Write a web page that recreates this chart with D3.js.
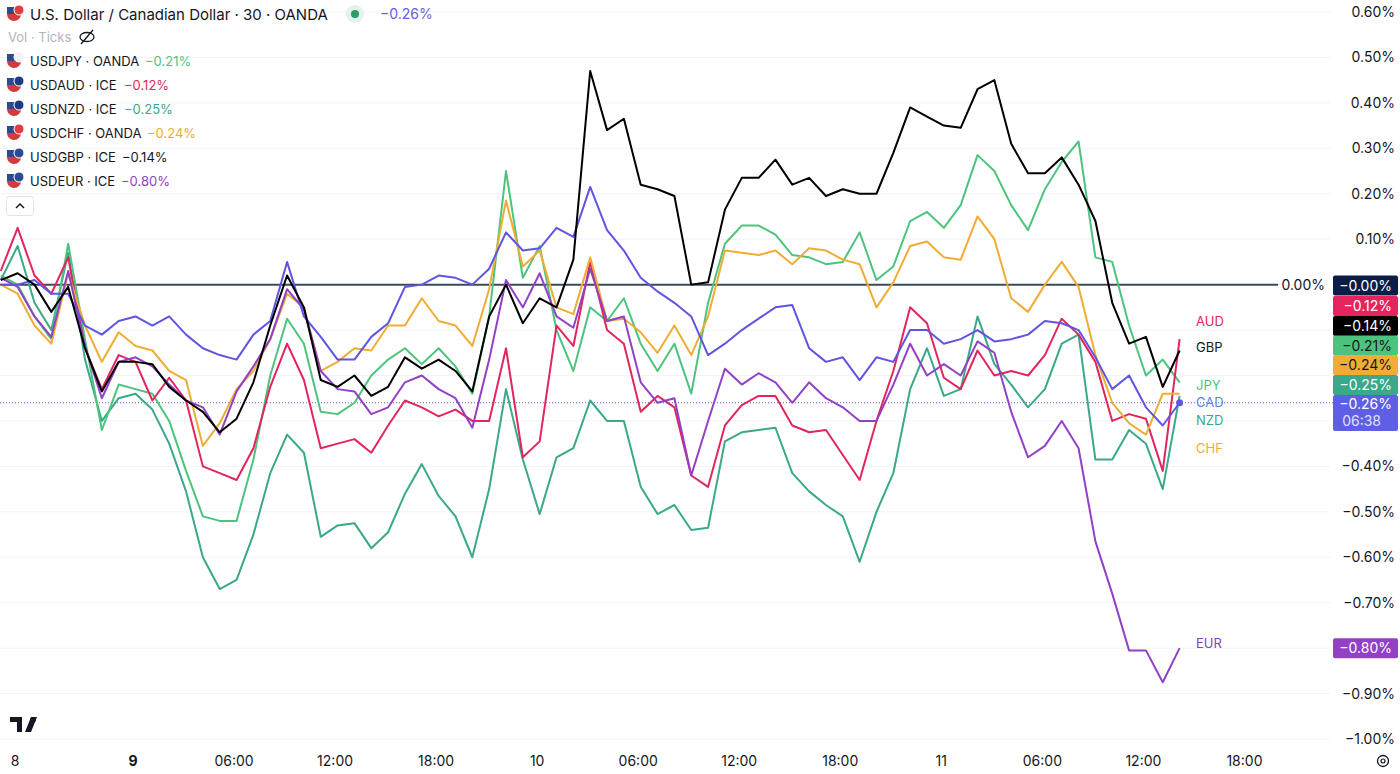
<!DOCTYPE html>
<html><head><meta charset="utf-8">
<script src="https://cdn.jsdelivr.net/npm/d3@7"></script>
<style>body{margin:0;background:#fff;font-family:Inter,"Noto Sans",sans-serif}</style>
</head><body><svg id="c" width="1400" height="774"></svg>
<script>
// hourly samples, % change, starting 8th ~16:10
const startHour = -7.85; // hours relative to 9th 00:00
const CAD = [0,0,0.01,-0.02,-0.02,-0.09,-0.11,-0.08,-0.07,-0.09,-0.07,-0.11,-0.14,-0.155,-0.165,-0.11,-0.08,0.05,-0.07,-0.115,-0.165,-0.165,-0.115,-0.085,-0.005,0,0.02,0.015,0,0.035,0.115,0.075,0.08,0.125,0.105,0.215,0.12,0.075,0.015,-0.015,-0.04,-0.07,-0.155,-0.13,-0.1,-0.075,-0.05,-0.045,-0.14,-0.17,-0.16,-0.21,-0.16,-0.17,-0.1,-0.1,-0.13,-0.12,-0.1,-0.125,-0.12,-0.11,-0.08,-0.085,-0.1,-0.16,-0.23,-0.2,-0.27,-0.31,-0.26];
const GBP = [0.01,0.025,0,-0.06,-0.005,-0.14,-0.235,-0.17,-0.17,-0.175,-0.225,-0.255,-0.28,-0.325,-0.295,-0.215,-0.09,0.02,-0.05,-0.21,-0.225,-0.2,-0.245,-0.225,-0.16,-0.185,-0.165,-0.19,-0.235,-0.07,0,-0.085,-0.03,-0.05,0.055,0.47,0.34,0.365,0.22,0.21,0.195,0,0.005,0.165,0.235,0.235,0.275,0.22,0.235,0.195,0.21,0.2,0.2,0.29,0.39,0.37,0.35,0.345,0.43,0.45,0.31,0.245,0.245,0.28,0.22,0.14,-0.04,-0.13,-0.115,-0.225,-0.145];
const AUD = [0.03,0.125,0.02,-0.02,0.06,-0.14,-0.23,-0.155,-0.17,-0.255,-0.205,-0.255,-0.4,-0.415,-0.43,-0.36,-0.225,-0.13,-0.21,-0.36,-0.35,-0.34,-0.37,-0.31,-0.255,-0.27,-0.29,-0.275,-0.3,-0.3,-0.14,-0.38,-0.345,-0.09,-0.135,0.05,-0.1,-0.13,-0.28,-0.245,-0.27,-0.42,-0.445,-0.31,-0.265,-0.245,-0.245,-0.31,-0.325,-0.32,-0.375,-0.43,-0.3,-0.19,-0.05,-0.085,-0.205,-0.23,-0.145,-0.2,-0.19,-0.2,-0.155,-0.075,-0.11,-0.17,-0.3,-0.285,-0.295,-0.41,-0.12];
const CHF = [0,-0.02,-0.09,-0.13,0.025,-0.09,-0.17,-0.105,-0.135,-0.145,-0.19,-0.21,-0.355,-0.305,-0.23,-0.19,-0.12,-0.02,-0.05,-0.19,-0.17,-0.14,-0.145,-0.09,-0.09,-0.03,-0.08,-0.09,-0.135,-0.01,0.185,0.04,0.075,-0.05,-0.065,0.06,-0.08,-0.075,-0.105,-0.15,-0.09,-0.155,-0.07,0.075,0.07,0.065,0.075,0.045,0.08,0.075,0.055,0.045,-0.05,0.005,0.085,0.095,0.06,0.055,0.15,0.1,-0.03,-0.06,0,0.05,-0.005,-0.155,-0.26,-0.305,-0.33,-0.24,-0.24];
const EUR = [0.015,-0.005,-0.07,-0.115,0.03,-0.135,-0.25,-0.17,-0.16,-0.18,-0.22,-0.255,-0.27,-0.33,-0.235,-0.18,-0.12,-0.01,-0.055,-0.19,-0.23,-0.235,-0.285,-0.27,-0.215,-0.2,-0.23,-0.25,-0.315,-0.165,0.01,-0.05,0.025,-0.07,-0.095,0.035,-0.08,-0.07,-0.215,-0.26,-0.25,-0.42,-0.3,-0.185,-0.22,-0.195,-0.215,-0.26,-0.215,-0.25,-0.27,-0.3,-0.3,-0.22,-0.13,-0.2,-0.175,-0.2,-0.125,-0.15,-0.28,-0.38,-0.355,-0.3,-0.36,-0.565,-0.68,-0.805,-0.805,-0.875,-0.8];
const JPY = [0.02,0,-0.07,-0.12,0.09,-0.12,-0.32,-0.22,-0.23,-0.24,-0.3,-0.41,-0.51,-0.52,-0.52,-0.385,-0.2,-0.075,-0.13,-0.28,-0.285,-0.26,-0.2,-0.165,-0.14,-0.175,-0.14,-0.18,-0.24,-0.07,0.25,0.015,0.085,-0.1,-0.19,-0.05,-0.08,-0.03,-0.13,-0.19,-0.13,-0.24,-0.04,0.09,0.13,0.13,0.11,0.065,0.06,0.045,0.05,0.115,0.01,0.04,0.14,0.16,0.125,0.175,0.285,0.25,0.175,0.12,0.21,0.27,0.315,0.06,0.05,-0.09,-0.2,-0.165,-0.215];
const NZD = [0.01,0.085,-0.04,-0.1,0.07,-0.165,-0.3,-0.25,-0.24,-0.275,-0.35,-0.455,-0.6,-0.67,-0.65,-0.55,-0.415,-0.33,-0.37,-0.555,-0.53,-0.525,-0.58,-0.545,-0.46,-0.395,-0.465,-0.51,-0.6,-0.45,-0.23,-0.385,-0.505,-0.38,-0.36,-0.255,-0.3,-0.3,-0.445,-0.505,-0.485,-0.54,-0.535,-0.345,-0.325,-0.32,-0.315,-0.415,-0.455,-0.485,-0.51,-0.61,-0.5,-0.415,-0.23,-0.14,-0.245,-0.23,-0.07,-0.175,-0.22,-0.27,-0.23,-0.13,-0.11,-0.385,-0.385,-0.32,-0.35,-0.45,-0.245];

const yTicks = [0.6,0.5,0.4,0.3,0.2,0.1,0,-0.1,-0.2,-0.3,-0.4,-0.5,-0.6,-0.7,-0.8,-0.9,-1.0];
const hiddenTicks = [0,-0.1,-0.2,-0.3,-0.8];
const xTickHours = [-7,0,6,12,18,24,30,36,42,48,54,60,66];
const xTickLabels = ["8","9","06:00","12:00","18:00","10","06:00","12:00","18:00","11","06:00","12:00","18:00"];

const series = [
 {name:"JPY", vals:JPY, color:"#4cc47e", last:-0.21, legend:"USDJPY · OANDA"},
 {name:"AUD", vals:AUD, color:"#e2255c", last:-0.12, legend:"USDAUD · ICE"},
 {name:"NZD", vals:NZD, color:"#3aa88a", last:-0.25, legend:"USDNZD · ICE"},
 {name:"CHF", vals:CHF, color:"#efad33", last:-0.24, legend:"USDCHF · OANDA"},
 {name:"GBP", vals:GBP, color:"#000000", last:-0.14, legend:"USDGBP · ICE"},
 {name:"EUR", vals:EUR, color:"#9240c6", last:-0.80, legend:"USDEUR · ICE"},
 {name:"CAD", vals:CAD, color:"#5f55e2", last:-0.26}
];
const endLabels = [["AUD",-0.08,"#e2255c"],["GBP",-0.137,"#131722"],["JPY",-0.22,"#4cc47e"],["CAD",-0.258,"#5b84e4"],["NZD",-0.297,"#3aa88a"],["CHF",-0.36,"#efad33"],["EUR",-0.788,"#8a3fc0"]];

const svg = d3.select("#c");
const x = d3.scaleLinear().domain([0,10]).range([133,133+168.4]);
const y = d3.scaleLinear().domain([-1.0,0.6]).range([739,12]);
const fmt = v => (v<0?"\u2212":"")+Math.abs(v).toFixed(2)+"%";

svg.append("g").selectAll("line").data(yTicks).join("line")
 .attr("x1",0).attr("x2",1330).attr("y1",d=>y(d)).attr("y2",d=>y(d))
 .attr("stroke","#f0f3fa").attr("stroke-width",1);

svg.append("g").selectAll("text").data(yTicks.filter(t=>!hiddenTicks.includes(t))).join("text")
 .attr("x",1395).attr("y",d=>y(d)+5).attr("text-anchor","end")
 .attr("font-size",14).attr("fill","#131722").text(d=>fmt(d));

svg.append("g").selectAll("text").data(xTickHours).join("text")
 .attr("x",d=>x(d)).attr("y",766).attr("text-anchor","middle").attr("font-size",14)
 .attr("font-weight",(d,i)=>xTickLabels[i]==="9"?700:400)
 .attr("fill","#131722").text((d,i)=>xTickLabels[i]);

svg.append("line").attr("x1",0).attr("x2",1278).attr("y1",y(0)).attr("y2",y(0)).attr("stroke","#3d4a5c").attr("stroke-width",2);
svg.append("text").attr("x",1325).attr("y",y(0)+5).attr("text-anchor","end").attr("font-size",14).attr("fill","#131722").text("0.00%");

svg.append("line").attr("x1",0).attr("x2",1333).attr("y1",y(-0.26)).attr("y2",y(-0.26))
 .attr("stroke","#5f55e2").attr("stroke-dasharray","1,2").attr("stroke-width",1);

const line = d3.line().x((d,i)=>x(startHour+i)).y(d=>y(d));
const order = ["NZD","JPY","AUD","CHF","EUR","CAD","GBP"];
order.forEach(n=>{
 const s = series.find(q=>q.name===n);
 svg.append("path").datum(s.vals).attr("d",line).attr("fill","none")
  .attr("stroke",s.color).attr("stroke-width",2).attr("stroke-linejoin","round");
});
svg.append("circle").attr("cx",x(startHour+CAD.length-1)).attr("cy",y(CAD[CAD.length-1])).attr("r",3.5).attr("fill","#5f55e2");

svg.append("g").selectAll("text").data(endLabels).join("text")
 .attr("x",1196).attr("y",d=>y(d[1])+5).attr("font-size",13).attr("fill",d=>d[2]).text(d=>d[0]);

const badges = [[0,"#0b1d47","#fff","\u22120.00%"],[-0.12,"#e2255c","#fff"],[-0.14,"#000","#fff"],[-0.21,"#4cc47e","#131722"],[-0.24,"#efad33","#131722"],[-0.25,"#3aa88a","#fff"],[-0.80,"#9240c6","#fff"]];
const bpos = {"0":285.5,"-0.12":306,"-0.14":326,"-0.21":345.5,"-0.24":365,"-0.25":385};
badges.forEach(b=>{
 const cy = b[0]===-0.8 ? y(-0.8) : bpos[String(b[0])];
 svg.append("rect").attr("x",1333).attr("y",cy-10).attr("width",65).attr("height",20).attr("rx",2).attr("fill",b[1]);
 svg.append("text").attr("x",1392).attr("y",cy+5).attr("text-anchor","end").attr("font-size",14).attr("fill",b[2]).text(b[3]||fmt(b[0]));
});
svg.append("rect").attr("x",1333).attr("y",395).attr("width",65).attr("height",36).attr("rx",2).attr("fill","#5f5fe6");
svg.append("text").attr("x",1392).attr("y",409).attr("text-anchor","end").attr("font-size",14).attr("fill","#fff").text(fmt(-0.26));
svg.append("text").attr("x",1381).attr("y",426).attr("text-anchor","end").attr("font-size",14).attr("fill","#e0e0ff").text("06:38");

function flag(cx,cy,c2){
 svg.append("circle").attr("cx",cx).attr("cy",cy).attr("r",7).attr("fill","#d33b3b");
 svg.append("rect").attr("x",cx-7).attr("y",cy-7).attr("width",7).attr("height",7).attr("fill","#2c4a8f");
 svg.append("circle").attr("cx",cx+5).attr("cy",cy-4).attr("r",5).attr("fill",c2).attr("stroke","#fff").attr("stroke-width",1);
}
flag(14,14,"#e23d3d");
svg.append("text").attr("x",30).attr("y",20).attr("font-size",15).attr("fill","#131722").text("U.S. Dollar / Canadian Dollar · 30 · OANDA");
svg.append("circle").attr("cx",355).attr("cy",14).attr("r",9).attr("fill","#e4f2ec");
svg.append("circle").attr("cx",355).attr("cy",14).attr("r",4).attr("fill","#2e9a6a");
svg.append("text").attr("x",380).attr("y",19).attr("font-size",14).attr("fill","#6a5ce0").text(fmt(-0.26));
svg.append("text").attr("x",8).attr("y",42).attr("font-size",13).attr("fill","#b2b5be").text("Vol · Ticks");
svg.append("ellipse").attr("cx",87).attr("cy",37).attr("rx",7).attr("ry",4.5).attr("fill","none").attr("stroke","#131722").attr("stroke-width",1.3);
svg.append("line").attr("x1",81).attr("y1",44).attr("x2",93).attr("y2",30).attr("stroke","#131722").attr("stroke-width",1.3);
const flagCols = {JPY:"#f2f2f2",AUD:"#1e3a80",NZD:"#1e3a80",CHF:"#e23d3d",GBP:"#2c4a8f",EUR:"#2c4a8f"};
const valX = {JPY:145,AUD:124,NZD:124,CHF:147,GBP:122,EUR:121};
series.filter(s=>s.legend).forEach((s,i)=>{
 const yy = 61+i*24;
 flag(14,yy,flagCols[s.name]);
 svg.append("text").attr("x",30).attr("y",yy+5).attr("font-size",13).attr("fill","#131722").text(s.legend);
 svg.append("text").attr("x",valX[s.name]).attr("y",yy+5).attr("font-size",13)
  .attr("fill",s.color==="#000000"?"#131722":s.color).text(fmt(s.last));
});
svg.append("rect").attr("x",6.5).attr("y",196.5).attr("width",27).attr("height",19).attr("rx",3).attr("fill","#fff").attr("stroke","#e0e3eb");
svg.append("path").attr("d","M16 208 L20 204 L24 208").attr("fill","none").attr("stroke","#131722").attr("stroke-width",1.5);

svg.append("path").attr("d","M10 717 H22 V732 H17 V722 H10 Z M25 732 L31 717 H37 L31 732 Z").attr("fill","#131722");
svg.append("circle").attr("cx",33).attr("cy",720).attr("r",2.8).attr("fill","#131722");
svg.append("circle").attr("cx",1383).attr("cy",761).attr("r",5.5).attr("fill","none").attr("stroke","#131722").attr("stroke-width",1.3);
svg.append("circle").attr("cx",1383).attr("cy",761).attr("r",2).attr("fill","none").attr("stroke","#131722").attr("stroke-width",1.2);
</script></body></html>
